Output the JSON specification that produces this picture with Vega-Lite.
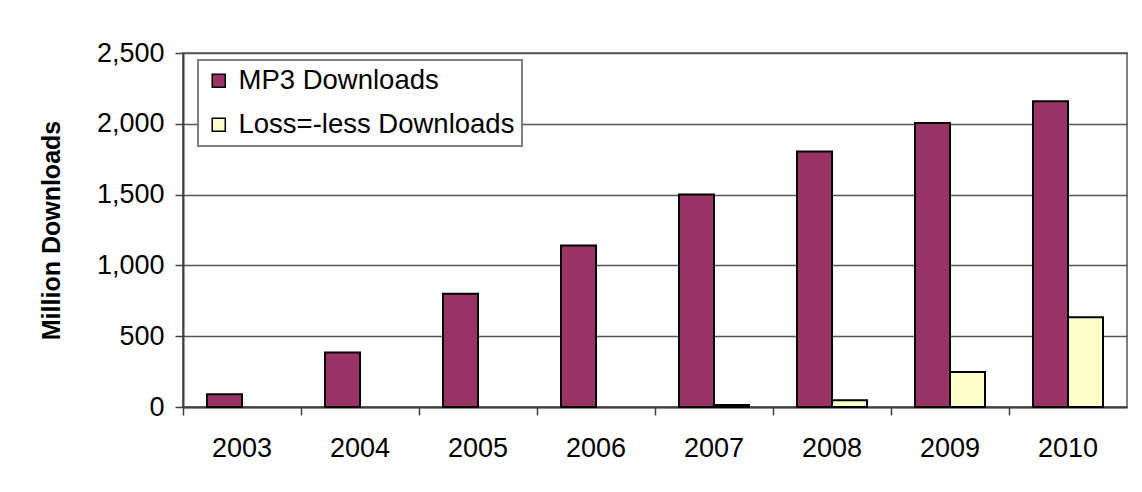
{
  "$schema": "https://vega.github.io/schema/vega-lite/v6.json",
  "width": 944,
  "height": 354,
  "autosize": "none",
  "padding": {"left": 183, "top": 53, "right": 15, "bottom": 85},
  "background": "white",
  "config": {
    "font": "Liberation Sans",
    "view": {"stroke": "#808080", "strokeWidth": 2}
  },
  "data": {
    "values": [
      {"year": "2003", "series": "MP3 Downloads", "downloads": 90},
      {"year": "2004", "series": "MP3 Downloads", "downloads": 385},
      {"year": "2005", "series": "MP3 Downloads", "downloads": 800},
      {"year": "2006", "series": "MP3 Downloads", "downloads": 1140},
      {"year": "2007", "series": "MP3 Downloads", "downloads": 1500},
      {"year": "2008", "series": "MP3 Downloads", "downloads": 1805},
      {"year": "2009", "series": "MP3 Downloads", "downloads": 2005},
      {"year": "2010", "series": "MP3 Downloads", "downloads": 2160},
      {"year": "2007", "series": "Loss=-less Downloads", "downloads": 14},
      {"year": "2008", "series": "Loss=-less Downloads", "downloads": 47},
      {"year": "2009", "series": "Loss=-less Downloads", "downloads": 247},
      {"year": "2010", "series": "Loss=-less Downloads", "downloads": 633}
    ]
  },
  "mark": {"type": "bar", "stroke": "black", "strokeWidth": 2},
  "encoding": {
    "x": {
      "field": "year",
      "type": "nominal",
      "scale": {"paddingInner": 0, "paddingOuter": 0},
      "axis": {
        "title": null,
        "labelAngle": 0,
        "labelFontSize": 27,
        "labelColor": "black",
        "labelPadding": 20,
        "bandPosition": 0,
        "tickSize": 8,
        "tickColor": "#404040",
        "tickWidth": 1.5,
        "domainColor": "#404040",
        "domainWidth": 2,
        "grid": false
      }
    },
    "xOffset": {
      "field": "series",
      "type": "nominal",
      "scale": {"domain": ["MP3 Downloads", "Loss=-less Downloads"], "paddingInner": 0, "paddingOuter": 0.686}
    },
    "y": {
      "field": "downloads",
      "type": "quantitative",
      "scale": {"domain": [0, 2500], "nice": false},
      "axis": {
        "title": "Million Downloads",
        "titleFontSize": 25,
        "titleFontWeight": "bold",
        "titleColor": "black",
        "titlePadding": 32,
        "values": [0, 500, 1000, 1500, 2000, 2500],
        "format": ",.0f",
        "labelFontSize": 27,
        "labelColor": "black",
        "labelPadding": 11,
        "tickSize": 8,
        "tickColor": "#404040",
        "tickWidth": 1.5,
        "domainColor": "#404040",
        "domainWidth": 2,
        "gridColor": "#555555",
        "gridWidth": 1.5
      }
    },
    "color": {
      "field": "series",
      "type": "nominal",
      "scale": {"domain": ["MP3 Downloads", "Loss=-less Downloads"], "range": ["#993366", "#FFFFCC"]},
      "legend": {
        "title": null,
        "orient": "none",
        "legendX": 15,
        "legendY": 7,
        "labelFontSize": 27.5,
        "labelColor": "black",
        "labelLimit": 0,
        "symbolType": "square",
        "symbolSize": 170,
        "symbolStrokeColor": "black",
        "symbolStrokeWidth": 1.5,
        "symbolOpacity": 1,
        "rowPadding": 15,
        "padding": 7,
        "strokeColor": "#808080",
        "fillColor": "white",
        "labelOffset": 6,
        "encode": {"legend": {"update": {"strokeWidth": {"value": 2}}}}
      }
    }
  }
}
